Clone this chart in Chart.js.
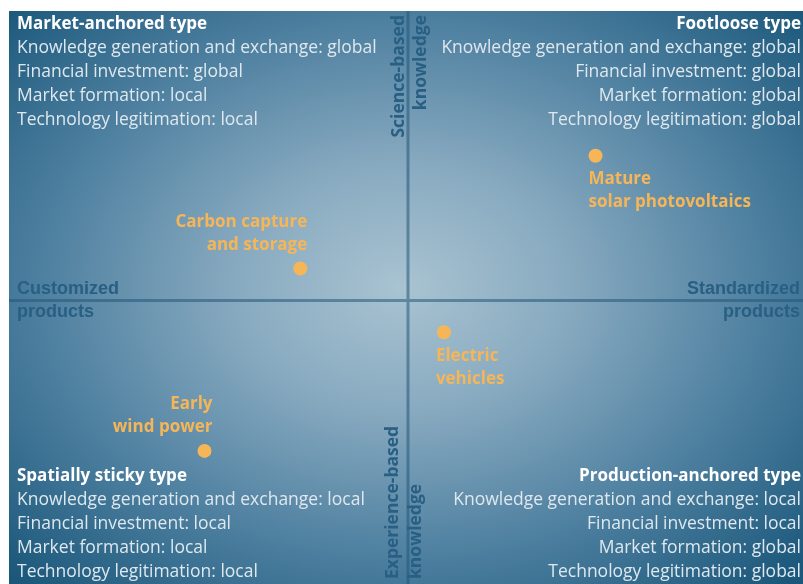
<!DOCTYPE html>
<html>
<head>
<meta charset="utf-8">
<script src="https://cdn.jsdelivr.net/npm/chart.js@4.4.1/dist/chart.umd.min.js"></script>
<style>
  html, body { margin: 0; padding: 0; background: #fff; }
  #wrap { width: 803px; height: 584px; }
</style>
</head>
<body>
<div id="wrap"><canvas id="QuadChart"></canvas></div>
<script>
// ---- data ----
const techNames = [['Carbon capture', 'and storage'], ['Mature', 'solar photovoltaics'], ['Electric', 'vehicles'], ['Early', 'wind power']];
const productAxis = [-27, 47, 9, -51];     // customized (-) ... standardized (+)
const knowledgeAxis = [11, 50, -11, -52];  // experience-based (-) ... science-based (+)

const quadTitles = ['Market-anchored type', 'Footloose type', 'Spatially sticky type', 'Production-anchored type'];
const quadFactors = ['Knowledge generation and exchange', 'Financial investment', 'Market formation', 'Technology legitimation'];
const quadScope = [
    ['global', 'global', 'local', 'local'],
    ['global', 'global', 'global', 'global'],
    ['local', 'local', 'local', 'local'],
    ['local', 'local', 'global', 'global']
];
const xAxisNames = [['Customized', 'products'], ['Standardized', 'products']];
const yAxisNames = [['Science-based', 'knowledge'], ['Experience-based', 'knowledge']];

// where each point label sits relative to its dot
const labelPlace = [
    { align: 'right', dx: 7, dy: -46 },
    { align: 'left', dx: -7, dy: 23 },
    { align: 'left', dx: -8, dy: 24 },
    { align: 'right', dx: 8, dy: -47 }
];

const ORANGE = '#f6b657';
const AXIS_BLUE = '#285f83';
const BODY_FONT = '"Open Sans", "Liberation Sans", sans-serif';

// background: radial glow inside the chart area + the two zero lines
const backgroundPlugin = {
    id: 'bgGlow',
    beforeDraw(chart) {
        const { ctx, chartArea: { left, top, right, bottom } } = chart;
        ctx.save();
        ctx.fillStyle = '#ffffff';
        ctx.fillRect(0, 0, chart.width, chart.height);
        ctx.beginPath();
        ctx.rect(left, top, right - left, bottom - top);
        ctx.clip();
        ctx.translate(402, 288);
        ctx.scale(1.35, 1);
        const g = ctx.createRadialGradient(0, 0, 0, 0, 0, 410);
        g.addColorStop(0, '#a9c3d1');
        g.addColorStop(0.3, '#88aac0');
        g.addColorStop(0.65, '#4e80a0');
        g.addColorStop(1, '#1a577a');
        ctx.fillStyle = g;
        ctx.fillRect(-400, -400, 800, 800);
        ctx.restore();
    },
    beforeDatasetsDraw(chart) {
        const { ctx, chartArea: { left, top, right, bottom } } = chart;
        const zx = chart.scales.x.getPixelForValue(0);
        const zy = chart.scales.y.getPixelForValue(0);
        ctx.save();
        ctx.strokeStyle = 'rgba(35, 85, 120, 0.55)';
        ctx.lineWidth = 3;
        ctx.beginPath();
        ctx.moveTo(zx, top);
        ctx.lineTo(zx, bottom);
        ctx.moveTo(left, zy);
        ctx.lineTo(right, zy);
        ctx.stroke();
        ctx.restore();
    }
};

// quadrant descriptions, axis captions and point labels
const textPlugin = {
    id: 'quadText',
    afterDatasetsDraw(chart) {
        const { ctx, chartArea: { left, top, right, bottom } } = chart;
        const zx = chart.scales.x.getPixelForValue(0);
        const zy = chart.scales.y.getPixelForValue(0);
        ctx.save();
        ctx.textBaseline = 'middle';

        // quadrant blocks
        quadTitles.forEach((title, q) => {
            const isRight = q % 2 === 1;
            const isBottom = q >= 2;
            const x = isRight ? right - 2 : left + 8;
            const y0 = isBottom ? bottom - 12 - 24 * 4 : top + 13;
            ctx.textAlign = isRight ? 'right' : 'left';
            ctx.fillStyle = '#ffffff';
            ctx.font = 'bold 17px ' + BODY_FONT;
            ctx.fillText(title, x, y0);
            ctx.fillStyle = '#dfe8ee';
            ctx.font = '17.5px ' + BODY_FONT;
            quadFactors.forEach((f, i) => {
                ctx.fillText(f + ': ' + quadScope[q][i], x, y0 + 24 * (i + 1));
            });
        });

        // horizontal axis captions
        ctx.fillStyle = AXIS_BLUE;
        ctx.font = 'bold 18px "Liberation Sans", sans-serif';
        ctx.textAlign = 'left';
        ctx.fillText(xAxisNames[0][0], left + 8, zy - 11);
        ctx.fillText(xAxisNames[0][1], left + 8, zy + 12);
        ctx.textAlign = 'right';
        ctx.fillText(xAxisNames[1][0], right - 3, zy - 11);
        ctx.fillText(xAxisNames[1][1], right - 3, zy + 12);

        // vertical axis captions
        ctx.font = 'bold 17.5px ' + BODY_FONT;
        [[zx - 9, 0], [zx + 13, 1]].forEach(([x, i]) => {
            ctx.save();
            ctx.translate(x, top + 4);
            ctx.rotate(-Math.PI / 2);
            ctx.textAlign = 'right';
            ctx.fillText(yAxisNames[0][i], 0, 0);
            ctx.restore();
        });
        [[zx - 15, 0], [zx + 8, 1]].forEach(([x, i]) => {
            ctx.save();
            ctx.translate(x, bottom - 5);
            ctx.rotate(-Math.PI / 2);
            ctx.textAlign = 'left';
            ctx.fillText(yAxisNames[1][i], 0, 0);
            ctx.restore();
        });

        // point labels
        const meta = chart.getDatasetMeta(0);
        ctx.fillStyle = ORANGE;
        ctx.font = 'bold 17px ' + BODY_FONT;
        meta.data.forEach((pt, i) => {
            const p = labelPlace[i];
            ctx.textAlign = p.align;
            techNames[i].forEach((line, j) => {
                ctx.fillText(line, pt.x + p.dx, pt.y + p.dy + 23 * j);
            });
        });
        ctx.restore();
    }
};

new Chart(document.getElementById('QuadChart'), {
    type: 'scatter',
    data: {
        datasets: [{
            data: productAxis.map((x, i) => ({ x: x, y: knowledgeAxis[i] })),
            backgroundColor: ORANGE,
            borderWidth: 0,
            pointRadius: 7,
            pointHoverRadius: 7
        }]
    },
    options: {
        responsive: true,
        maintainAspectRatio: false,
        animation: false,
        events: [],
        layout: { autoPadding: false, padding: { left: 9, top: 11, right: 0, bottom: 0 } },
        plugins: { legend: { display: false }, tooltip: { enabled: false } },
        scales: {
            x: { display: false, min: -100, max: 99 },
            y: { display: false, min: -98, max: 100 }
        }
    },
    plugins: [backgroundPlugin, textPlugin]
});
</script>
</body>
</html>
